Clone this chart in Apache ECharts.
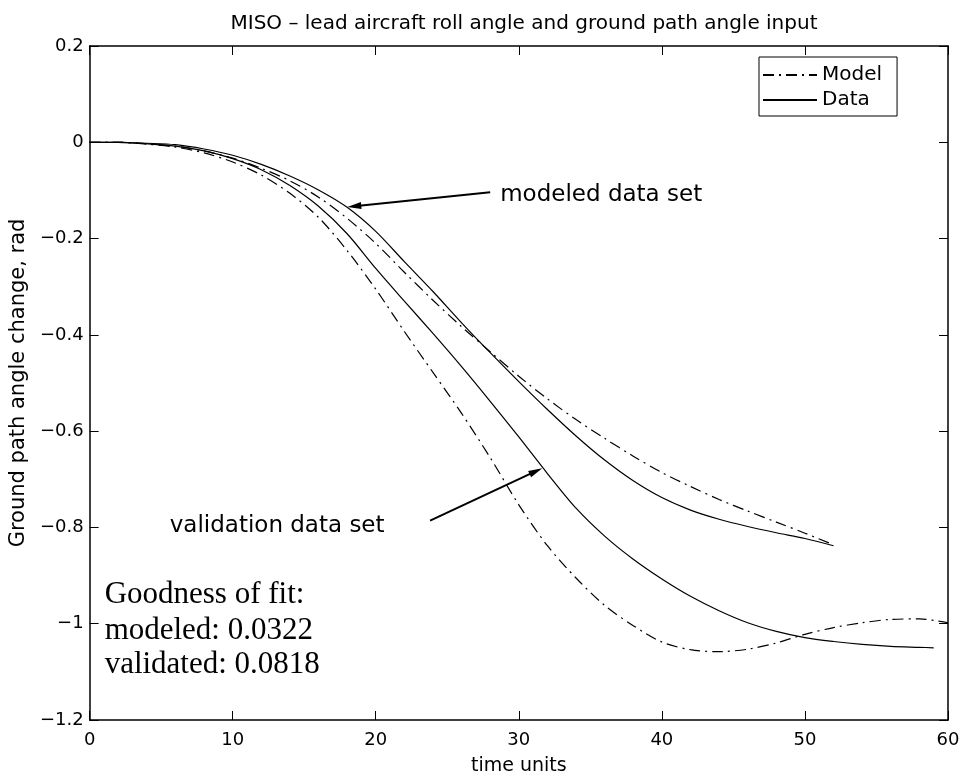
<!DOCTYPE html>
<html><head><meta charset="utf-8">
<script src="https://cdn.jsdelivr.net/npm/echarts@6/dist/echarts.min.js"></script>
<style>html,body{margin:0;padding:0;background:#fff}#c{width:965px;height:781px}</style>
</head><body><div id="c"></div>
<script>
// ---- texts ----
const titleText = 'MISO – lead aircraft roll angle and ground path angle input';
const xAxisName = 'time units';
const yAxisName = 'Ground path angle change, rad';
const legendNames = ['Model', 'Data'];
const modeledLabel = 'modeled data set';
const validationLabel = 'validation data set';
const fitLines = ['Goodness of fit:', 'modeled: 0.0322', 'validated: 0.0818'];

// ---- axes ----
const xTicks = [0, 10, 20, 30, 40, 50, 60];
const yTicks = [0.2, 0, -0.2, -0.4, -0.6, -0.8, -1, -1.2];

// ---- modeled data set ----
const timeModeled = [0, 2, 4, 6, 8, 10, 12, 14, 16, 18, 20, 22, 24, 26, 28, 30, 32, 34, 36, 38, 40, 42, 44, 46, 48, 50, 52];
const modeledData = [0, 0, -0.002, -0.005, -0.014, -0.027, -0.046, -0.070, -0.099, -0.135, -0.185, -0.248, -0.310, -0.375, -0.437, -0.497, -0.555, -0.610, -0.660, -0.703, -0.738, -0.764, -0.783, -0.798, -0.811, -0.823, -0.838];
const modeledModel = [0, 0, -0.003, -0.008, -0.018, -0.033, -0.054, -0.080, -0.114, -0.158, -0.210, -0.270, -0.328, -0.383, -0.435, -0.486, -0.533, -0.576, -0.615, -0.652, -0.686, -0.715, -0.742, -0.766, -0.789, -0.812, -0.836];

// ---- validation data set ----
const timeValidation = [0, 2, 4, 6, 8, 10, 12, 14, 16, 18, 20, 22, 24, 26, 28, 30, 32, 34, 36, 38, 40, 42, 44, 46, 48, 50, 52, 54, 56, 58, 59];
const validationData = [0, 0, -0.003, -0.008, -0.018, -0.034, -0.057, -0.090, -0.133, -0.190, -0.262, -0.330, -0.397, -0.466, -0.538, -0.612, -0.688, -0.760, -0.818, -0.866, -0.907, -0.943, -0.973, -0.998, -1.016, -1.029, -1.037, -1.043, -1.047, -1.049, -1.050];
const timeValidationModel = [0, 2, 4, 6, 8, 10, 12, 14, 16, 18, 20, 22, 24, 26, 28, 30, 32, 34, 36, 38, 40, 42, 44, 46, 48, 50, 52, 54, 56, 58, 60];
const validationModel = [0, 0, -0.004, -0.010, -0.022, -0.041, -0.068, -0.106, -0.156, -0.225, -0.305, -0.393, -0.478, -0.563, -0.655, -0.753, -0.838, -0.905, -0.962, -1.004, -1.038, -1.054, -1.058, -1.053, -1.040, -1.022, -1.008, -0.998, -0.991, -0.990, -0.998];

// ---- annotation anchors (data coordinates) ----
const arrowModeled = [[28.0, -0.104], [18.5, -0.133]];
const arrowValidation = [[23.8, -0.786], [31.2, -0.683]];
const modeledLabelPos = [28.7, -0.109];
const validationLabelPos = [5.6, -0.798];
const fitLinePos = [[1.05, -0.941], [1.05, -1.015], [1.05, -1.086]];

const zip = (xs, ys) => xs.map((x, i) => [x, ys[i]]);
const SANS = 'DejaVu Sans';
const SERIF = 'Liberation Serif';
const dashDot = [11, 5, 2, 5];
const fmtY = v => { const r = Math.round(v * 10) / 10; return String(r).replace('-', '\u2212'); };

const chart = echarts.init(document.getElementById('c'), null, { renderer: 'canvas' });

const axisLineStyle = { show: true, onZero: false, lineStyle: { color: '#000', width: 1.5 } };
const tickStyle = { show: true, inside: true, length: 9, lineStyle: { color: '#000', width: 1 } };

function lineSeries(name, data, dashed) {
  return {
    name: name, type: 'line', data: data, symbol: 'none', showSymbol: false,
    smooth: 0.3, silent: true,
    lineStyle: { color: '#000', width: 1.2, type: dashed ? dashDot : 'solid' },
    itemStyle: { color: '#000' },
    emphasis: { disabled: true }
  };
}

chart.setOption({
  animation: false,
  backgroundColor: '#fff',
  title: {
    text: titleText, left: 519, top: 9, textAlign: 'center',
    textStyle: { fontFamily: SANS, fontSize: 20, fontWeight: 'normal', color: '#000' }
  },
  grid: { left: 89, right: 17, top: 46, bottom: 59, containLabel: false },
  legend: {
    data: legendNames, orient: 'vertical', left: 759, top: 57,
    itemWidth: 54, itemHeight: 14, itemGap: 5, padding: [8, 15, 6, 3],
    borderColor: '#000', borderWidth: 1, borderRadius: 0, backgroundColor: '#fff',
    itemStyle: { opacity: 0 },
    textStyle: { fontFamily: SANS, fontSize: 20, color: '#000' },
    selectedMode: false
  },
  xAxis: [
    {
      type: 'value', min: xTicks[0], max: xTicks[xTicks.length - 1], interval: 10, position: 'bottom',
      axisLine: axisLineStyle, axisTick: tickStyle, splitLine: { show: false },
      axisLabel: { color: '#000', fontFamily: SANS, fontSize: 18, margin: 11 },
      name: xAxisName, nameLocation: 'middle', nameGap: 37,
      nameTextStyle: { color: '#000', fontFamily: SANS, fontSize: 19 }
    },
    {
      type: 'value', min: xTicks[0], max: xTicks[xTicks.length - 1], interval: 10, position: 'top',
      axisLine: axisLineStyle, axisTick: tickStyle, splitLine: { show: false },
      axisLabel: { show: false }
    }
  ],
  yAxis: [
    {
      type: 'value', min: yTicks[yTicks.length - 1], max: yTicks[0], interval: 0.2, position: 'left',
      axisLine: axisLineStyle, axisTick: tickStyle, splitLine: { show: false },
      axisLabel: { color: '#000', fontFamily: SANS, fontSize: 18, margin: 6, formatter: fmtY },
      name: yAxisName, nameLocation: 'middle', nameGap: 57,
      nameTextStyle: { color: '#000', fontFamily: SANS, fontSize: 21 }
    },
    {
      type: 'value', min: yTicks[yTicks.length - 1], max: yTicks[0], interval: 0.2, position: 'right',
      axisLine: axisLineStyle, axisTick: tickStyle, splitLine: { show: false },
      axisLabel: { show: false }
    }
  ],
  series: [
    lineSeries('Model', zip(timeModeled, modeledModel), true),
    lineSeries('Data', zip(timeModeled, modeledData), false),
    lineSeries('Model', zip(timeValidationModel, validationModel), true),
    lineSeries('Data', zip(timeValidation, validationData), false),
    {
      name: 'annotations', type: 'line', data: [], silent: true,
      markLine: {
        silent: true, animation: false,
        symbol: ['none', 'triangle'], symbolSize: [7, 14],
        label: { show: false },
        lineStyle: { color: '#000', width: 2, type: 'solid' },
        emphasis: { disabled: true },
        data: [
          [{ coord: arrowModeled[0] }, { coord: arrowModeled[1] }],
          [{ coord: arrowValidation[0] }, { coord: arrowValidation[1] }]
        ]
      }
    }
  ]
});

const px = p => chart.convertToPixel({ xAxisIndex: 0, yAxisIndex: 0 }, p);
const graphics = [];
const mp = px(modeledLabelPos);
graphics.push({ type: 'text', x: mp[0], y: mp[1], style: { text: modeledLabel, fontFamily: SANS, fontSize: 23, fill: '#000', textVerticalAlign: 'middle', verticalAlign: 'middle' } });
const vp = px(validationLabelPos);
graphics.push({ type: 'text', x: vp[0], y: vp[1], style: { text: validationLabel, fontFamily: SANS, fontSize: 23, fill: '#000', textVerticalAlign: 'middle', verticalAlign: 'middle' } });
fitLines.forEach((t, i) => {
  const p = px(fitLinePos[i]);
  graphics.push({ type: 'text', x: p[0], y: p[1], style: { text: t, fontFamily: SERIF, fontSize: 31, fill: '#000', textVerticalAlign: 'middle', verticalAlign: 'middle' } });
});
chart.setOption({ graphic: graphics });
</script></body></html>
